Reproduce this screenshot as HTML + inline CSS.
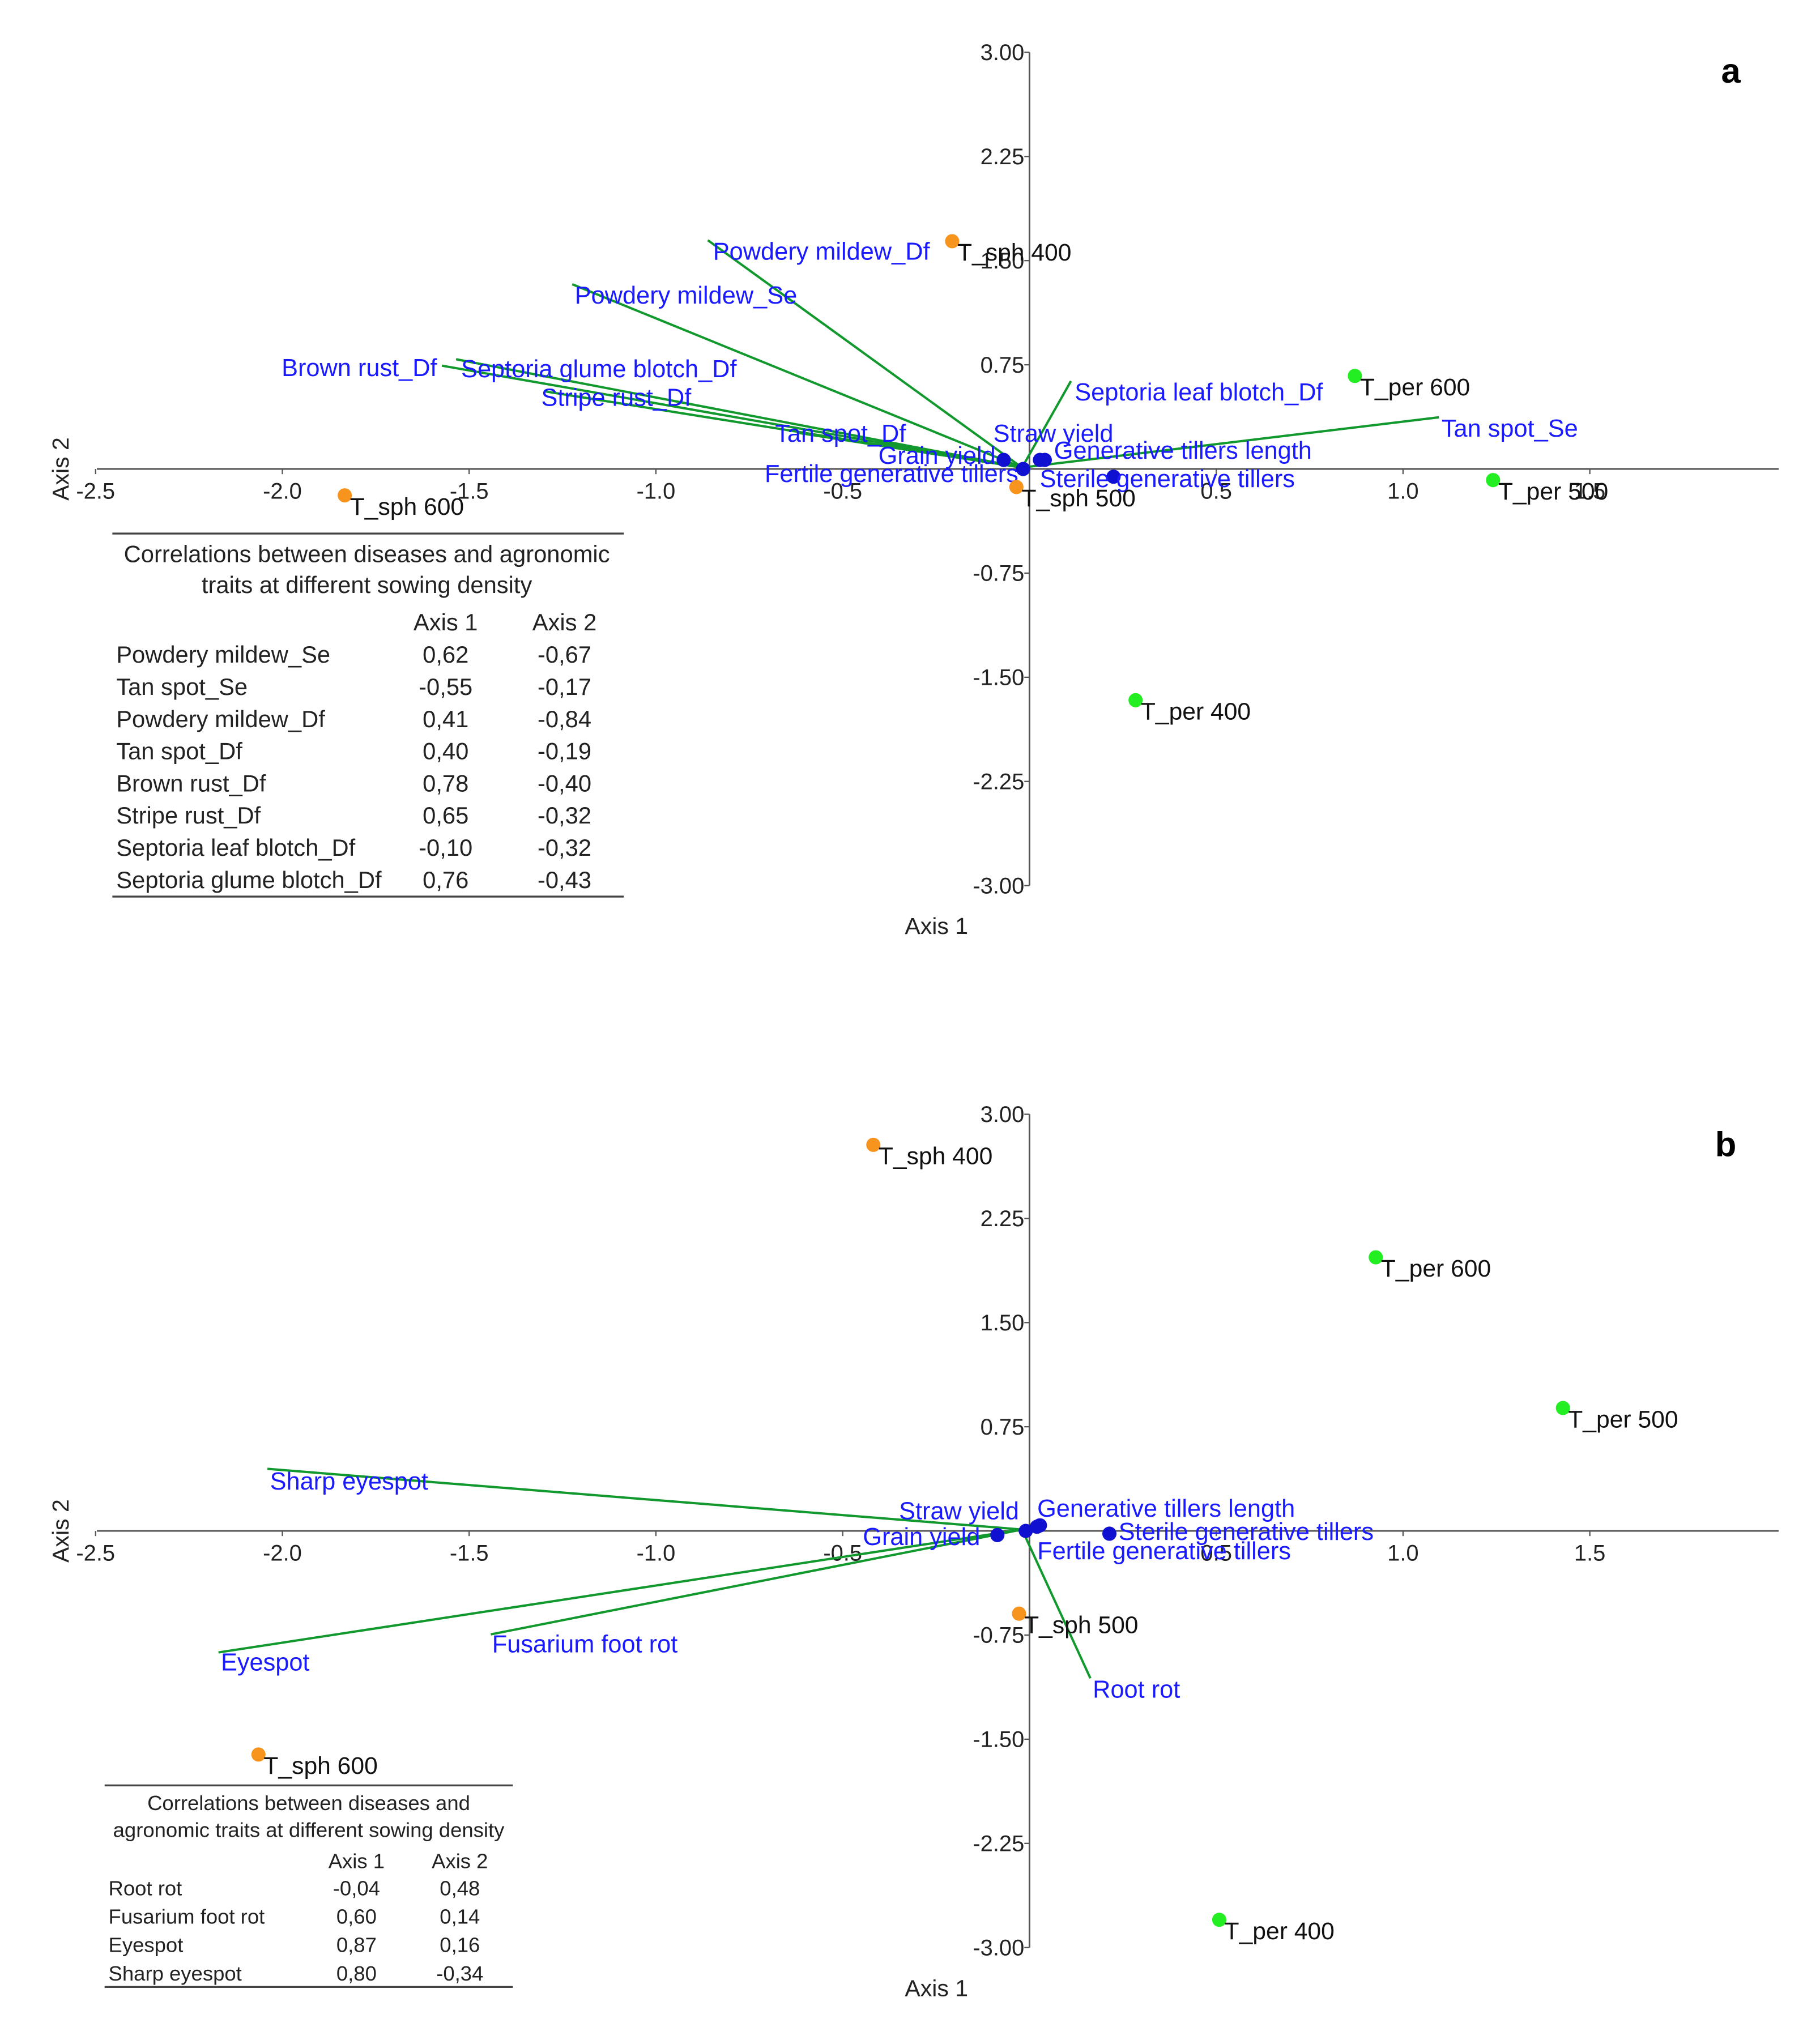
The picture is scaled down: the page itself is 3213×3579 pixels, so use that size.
<!DOCTYPE html>
<html><head><meta charset="utf-8"><style>
html,body{margin:0;padding:0;background:#fff}
svg{display:block}
text{font-family:"Liberation Sans",sans-serif}
</style></head>
<body>
<svg id="chart" xmlns="http://www.w3.org/2000/svg" width="3213" height="3579" viewBox="0 0 1409 1569" preserveAspectRatio="none">
  <rect width="1409" height="1569" fill="#fff"/>
  <text x="1340" y="64" font-size="27" font-weight="bold" text-anchor="middle">a</text>
  <text x="1336" y="895" font-size="27" font-weight="bold" text-anchor="middle">b</text>
  <g font-size="18.3" fill="#222">
    <line x1="87" y1="413" x2="483" y2="413" stroke="#444" stroke-width="1.5"/>
    <text x="284" y="435" text-anchor="middle">Correlations between diseases and agronomic</text>
    <text x="284" y="459" text-anchor="middle">traits at different sowing density</text>
    <text x="345" y="488" text-anchor="middle">Axis 1</text>
    <text x="437" y="488" text-anchor="middle">Axis 2</text>
    <line x1="87" y1="694" x2="483" y2="694" stroke="#444" stroke-width="1.5"/>
  </g>
  <g font-size="16" fill="#222">
    <line x1="81" y1="1382" x2="397" y2="1382" stroke="#444" stroke-width="1.5"/>
    <text x="239" y="1401" text-anchor="middle">Correlations between diseases and</text>
    <text x="239" y="1422" text-anchor="middle">agronomic traits at different sowing density</text>
    <text x="276" y="1446" text-anchor="middle">Axis 1</text>
    <text x="356" y="1446" text-anchor="middle">Axis 2</text>
    <line x1="81" y1="1538" x2="397" y2="1538" stroke="#444" stroke-width="1.5"/>
  </g>
</svg>
<script>
// ---------- data ----------
const xTicks = [-2.5, -2.0, -1.5, -1.0, -0.5, 0.5, 1.0, 1.5];
const xTickLabels = ["-2.5","-2.0","-1.5","-1.0","-0.5","0.5","1.0","1.5"];
const yTicks = [3.0, 2.25, 1.5, 0.75, -0.75, -1.5, -2.25, -3.0];
const yTickLabels = ["3.00","2.25","1.50","0.75","-0.75","-1.50","-2.25","-3.00"];

// panel a
const aPointNames = ["T_sph 400","T_sph 600","T_sph 500","T_per 600","T_per 500","T_per 400"];
const aPointX = [-0.207,-1.833,-0.035,0.871,1.241,0.284];
const aPointY = [1.64,-0.19,-0.13,0.67,-0.08,-1.665];
const aPointColor = ["#f7941d","#f7941d","#f7941d","#22ee22","#22ee22","#22ee22"];
const aVecNames = ["Powdery mildew_Df","Powdery mildew_Se","Brown rust_Df","Septoria glume blotch_Df","Stripe rust_Df","Tan spot_Df","Septoria leaf blotch_Df","Tan spot_Se"];
const aVecX = [-0.861,-1.224,-1.573,-1.535,-1.30,-0.62,0.111,1.096];
const aVecY = [1.647,1.33,0.744,0.79,0.56,0.26,0.633,0.372];
const aVarNames = ["Grain yield","Fertile generative tillers","Straw yield","Generative tillers length","Sterile generative tillers"];
const aVarX = [-0.069,-0.017,0.028,0.041,0.225];
const aVarY = [0.065,0.0,0.065,0.065,-0.056];
const aTableNames = ["Powdery mildew_Se","Tan spot_Se","Powdery mildew_Df","Tan spot_Df","Brown rust_Df","Stripe rust_Df","Septoria leaf blotch_Df","Septoria glume blotch_Df"];
const aTableAx1 = ["0,62","-0,55","0,41","0,40","0,78","0,65","-0,10","0,76"];
const aTableAx2 = ["-0,67","-0,17","-0,84","-0,19","-0,40","-0,32","-0,32","-0,43"];

// panel b
const bPointNames = ["T_sph 400","T_per 600","T_per 500","T_sph 500","T_sph 600","T_per 400"];
const bPointX = [-0.418,0.927,1.428,-0.028,-2.064,0.508];
const bPointY = [2.78,1.97,0.885,-0.596,-1.61,-2.80];
const bPointColor = ["#f7941d","#22ee22","#22ee22","#f7941d","#f7941d","#22ee22"];
const bVecNames = ["Sharp eyespot","Eyespot","Fusarium foot rot","Root rot"];
const bVecX = [-2.04,-2.171,-1.442,0.163];
const bVecY = [0.447,-0.875,-0.745,-1.061];
const bVarNames = ["Grain yield","Fertile generative tillers","Straw yield","Generative tillers length","Sterile generative tillers"];
const bVarX = [-0.086,-0.01,0.02,0.028,0.214];
const bVarY = [-0.03,0.0,0.03,0.04,-0.02];
const bTableNames = ["Root rot","Fusarium foot rot","Eyespot","Sharp eyespot"];
const bTableAx1 = ["-0,04","0,60","0,87","0,80"];
const bTableAx2 = ["0,48","0,14","0,16","-0,34"];

// ---------- layout (not data) ----------
const aVecLabelPos = [[552,201],[445,235],[218,291],[357,292],[419,314],[600,342],[832,310],[1116,338]];
const aVarLabelPos = [[680,359],[592,373],[769,342],[816,355],[805,377]];
const bVecLabelPos = [[209,1153],[171,1293],[381,1279],[846,1314]];
const bVarLabelPos = [[668,1196],[803,1207],[696,1176],[803,1174],[866,1192]];

const NS = "http://www.w3.org/2000/svg";
const svg = document.getElementById("chart");
function mk(tag, attrs, parent){
  const e = document.createElementNS(NS, tag);
  for (const k in attrs) e.setAttribute(k, attrs[k]);
  (parent||svg).appendChild(e);
  return e;
}
const LBL = 19, PTL = 18.7;

function panel(p, cfg){
  const X0 = 797, PXX = 289.2, PXY = 107.5;
  const Y0 = cfg.y0;
  const sx = v => X0 + v*PXX;
  const sy = v => Y0 - v*PXY;
  const g = mk("g", {});
  
  
  const xa = mk("line", {x1:75, y1:Y0, x2:1377, y2:Y0, stroke:"#555", "stroke-width":1.3}, g);
  
  
  const ya = mk("line", {x1:X0, y1:sy(3.0), x2:X0, y2:sy(-3.0), stroke:"#555", "stroke-width":1.3}, g);
  
  
  xTicks.forEach((t,i)=>{
    mk("line", {x1:sx(t), y1:Y0, x2:sx(t), y2:Y0+4, stroke:"#555"}, g);
    const tl = mk("text", {x:sx(t), y:Y0+23, "font-size":17.5, "text-anchor":"middle", fill:"#222"}, g);
    tl.textContent = xTickLabels[i];
    
    
  });
  yTicks.forEach((t,i)=>{
    mk("line", {x1:X0-4, y1:sy(t), x2:X0, y2:sy(t), stroke:"#555"}, g);
    const tl = mk("text", {x:X0-4, y:sy(t)+6, "font-size":17.5, "text-anchor":"end", fill:"#222"}, g);
    tl.textContent = yTickLabels[i];
    
    
  });
  const at1 = mk("text", {x:725, y:Y0+360, "font-size":18, "text-anchor":"middle", fill:"#222"}, g);
  at1.textContent = "Axis 1";
  
  
  const at2 = mk("text", {x:53, y:Y0, "font-size":18, "text-anchor":"middle", fill:"#222", transform:`rotate(-90 53 ${Y0})`}, g);
  at2.textContent = "Axis 2";
  
  
  cfg.vecNames.forEach((n,i)=>{
    const l = mk("line", {x1:sx(-0.02), y1:sy(0.01), x2:sx(cfg.vecX[i]), y2:sy(cfg.vecY[i]), stroke:"#12992e", "stroke-width":1.8}, g);
    
    
    const t = mk("text", {x:cfg.vecLab[i][0], y:cfg.vecLab[i][1], "font-size":LBL, fill:"#1a1aff"}, g);
    t.textContent = n;
    
    
  });
  cfg.varNames.forEach((n,i)=>{
    const c = mk("circle", {cx:sx(cfg.varX[i]), cy:sy(cfg.varY[i]), r:5.5, fill:"#1010d0"}, g);
    
    
    const t = mk("text", {x:cfg.varLab[i][0], y:cfg.varLab[i][1], "font-size":LBL, fill:"#1a1aff"}, g);
    t.textContent = n;
    
    
  });
  cfg.ptNames.forEach((n,i)=>{
    const c = mk("circle", {cx:sx(cfg.ptX[i]), cy:sy(cfg.ptY[i]), r:5.5, fill:cfg.ptCol[i]}, g);
    
    
    const t = mk("text", {x:sx(cfg.ptX[i])+4, y:sy(cfg.ptY[i])+15, "font-size":PTL, fill:"#111"}, g);
    t.textContent = n;
    
    
  });
  cfg.tNames.forEach((n,i)=>{
    const y = cfg.tY0 + i*cfg.tDy;
    const a = mk("text", {x:cfg.tNameX, y:y, "font-size":cfg.tFs, fill:"#222"}, g);
    a.textContent = n;
    
    
    const b = mk("text", {x:cfg.tC1, y:y, "font-size":cfg.tFs, fill:"#222", "text-anchor":"middle"}, g);
    b.textContent = cfg.tA1[i];
    
    
    const c = mk("text", {x:cfg.tC2, y:y, "font-size":cfg.tFs, fill:"#222", "text-anchor":"middle"}, g);
    c.textContent = cfg.tA2[i];
    
    
  });
}

panel("panel-a", {y0:363, vecNames:aVecNames, vecX:aVecX, vecY:aVecY, vecLab:aVecLabelPos,
  varNames:aVarNames, varX:aVarX, varY:aVarY, varLab:aVarLabelPos,
  ptNames:aPointNames, ptX:aPointX, ptY:aPointY, ptCol:aPointColor,
  tNames:aTableNames, tA1:aTableAx1, tA2:aTableAx2, tY0:513, tDy:24.9, tNameX:90, tC1:345, tC2:437, tFs:18.3});
panel("panel-b", {y0:1185, vecNames:bVecNames, vecX:bVecX, vecY:bVecY, vecLab:bVecLabelPos,
  varNames:bVarNames, varX:bVarX, varY:bVarY, varLab:bVarLabelPos,
  ptNames:bPointNames, ptX:bPointX, ptY:bPointY, ptCol:bPointColor,
  tNames:bTableNames, tA1:bTableAx1, tA2:bTableAx2, tY0:1467, tDy:22, tNameX:84, tC1:276, tC2:356, tFs:16});
</script>
</body></html>
